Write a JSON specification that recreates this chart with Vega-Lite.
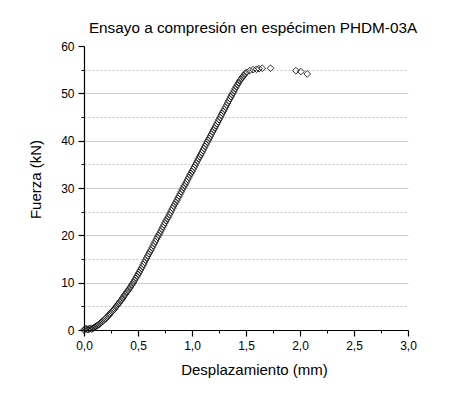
{
  "$schema": "https://vega.github.io/schema/vega-lite/v6.json",
  "autosize": {"type": "none"},
  "padding": {"left": 84, "top": 46, "right": 66, "bottom": 65},
  "width": 324,
  "height": 284,
  "background": "white",
  "title": {"text": "Ensayo a compresión en espécimen PHDM-03A", "font": "Liberation Sans", "fontSize": 15.3, "fontWeight": "normal", "color": "black", "anchor": "middle", "offset": 4, "dx": 7},
  "config": {"view": {"stroke": null}},
  "data": {"values": [
    {"d": 0.00, "f": 0.0}, {"d": 0.01, "f": 0.2}, {"d": 0.02, "f": 0.3}, {"d": 0.03, "f": 0.1}, {"d": 0.04, "f": 0.1},
    {"d": 0.05, "f": 0.3}, {"d": 0.06, "f": 0.35}, {"d": 0.07, "f": 0.2}, {"d": 0.08, "f": 0.3}, {"d": 0.09, "f": 0.45},
    {"d": 0.10, "f": 0.6}, {"d": 0.11, "f": 0.75}, {"d": 0.12, "f": 0.9}, {"d": 0.13, "f": 1.05}, {"d": 0.14, "f": 1.2},
    {"d": 0.15, "f": 1.4}, {"d": 0.16, "f": 1.6}, {"d": 0.17, "f": 1.8}, {"d": 0.18, "f": 2.0}, {"d": 0.19, "f": 2.2},
    {"d": 0.20, "f": 2.4}, {"d": 0.21, "f": 2.65}, {"d": 0.22, "f": 2.9}, {"d": 0.23, "f": 3.15}, {"d": 0.24, "f": 3.4},
    {"d": 0.25, "f": 3.65}, {"d": 0.26, "f": 3.9}, {"d": 0.27, "f": 4.15}, {"d": 0.28, "f": 4.4}, {"d": 0.29, "f": 4.7},
    {"d": 0.30, "f": 5.0}, {"d": 0.31, "f": 5.3}, {"d": 0.32, "f": 5.6}, {"d": 0.33, "f": 5.9}, {"d": 0.34, "f": 6.2},
    {"d": 0.35, "f": 6.5}, {"d": 0.36, "f": 6.8}, {"d": 0.37, "f": 7.15}, {"d": 0.38, "f": 7.5}, {"d": 0.39, "f": 7.8},
    {"d": 0.40, "f": 8.1}, {"d": 0.41, "f": 8.4}, {"d": 0.42, "f": 8.75}, {"d": 0.43, "f": 9.1}, {"d": 0.44, "f": 9.45},
    {"d": 0.45, "f": 9.8}, {"d": 0.46, "f": 10.15}, {"d": 0.47, "f": 10.55}, {"d": 0.48, "f": 10.95}, {"d": 0.49, "f": 11.35},
    {"d": 0.50, "f": 11.75}, {"d": 0.51, "f": 12.15}, {"d": 0.52, "f": 12.6}, {"d": 0.53, "f": 13.0}, {"d": 0.54, "f": 13.4},
    {"d": 0.55, "f": 13.85}, {"d": 0.56, "f": 14.3}, {"d": 0.57, "f": 14.75}, {"d": 0.58, "f": 15.2}, {"d": 0.59, "f": 15.65},
    {"d": 0.60, "f": 16.1}, {"d": 0.61, "f": 16.5}, {"d": 0.62, "f": 16.9}, {"d": 0.63, "f": 17.35}, {"d": 0.64, "f": 17.8},
    {"d": 0.65, "f": 18.25}, {"d": 0.66, "f": 18.7}, {"d": 0.67, "f": 19.15}, {"d": 0.68, "f": 19.6}, {"d": 0.69, "f": 20.0},
    {"d": 0.70, "f": 20.4}, {"d": 0.71, "f": 20.85}, {"d": 0.72, "f": 21.3}, {"d": 0.73, "f": 21.75}, {"d": 0.74, "f": 22.2},
    {"d": 0.75, "f": 22.65}, {"d": 0.76, "f": 23.1}, {"d": 0.77, "f": 23.5}, {"d": 0.78, "f": 23.9}, {"d": 0.79, "f": 24.35},
    {"d": 0.80, "f": 24.8}, {"d": 0.81, "f": 25.25}, {"d": 0.82, "f": 25.7}, {"d": 0.83, "f": 26.15}, {"d": 0.84, "f": 26.6},
    {"d": 0.85, "f": 27.0}, {"d": 0.86, "f": 27.4}, {"d": 0.87, "f": 27.85}, {"d": 0.88, "f": 28.3}, {"d": 0.89, "f": 28.75},
    {"d": 0.90, "f": 29.2}, {"d": 0.91, "f": 29.65}, {"d": 0.92, "f": 30.1}, {"d": 0.93, "f": 30.5}, {"d": 0.94, "f": 30.9},
    {"d": 0.95, "f": 31.35}, {"d": 0.96, "f": 31.8}, {"d": 0.97, "f": 32.25}, {"d": 0.98, "f": 32.7}, {"d": 0.99, "f": 33.1},
    {"d": 1.00, "f": 33.5}, {"d": 1.01, "f": 33.95}, {"d": 1.02, "f": 34.4}, {"d": 1.03, "f": 34.85}, {"d": 1.04, "f": 35.3},
    {"d": 1.05, "f": 35.75}, {"d": 1.06, "f": 36.2}, {"d": 1.07, "f": 36.6}, {"d": 1.08, "f": 37.0}, {"d": 1.09, "f": 37.45},
    {"d": 1.10, "f": 37.9}, {"d": 1.11, "f": 38.35}, {"d": 1.12, "f": 38.8}, {"d": 1.13, "f": 39.25}, {"d": 1.14, "f": 39.7},
    {"d": 1.15, "f": 40.1}, {"d": 1.16, "f": 40.5}, {"d": 1.17, "f": 40.95}, {"d": 1.18, "f": 41.4}, {"d": 1.19, "f": 41.85},
    {"d": 1.20, "f": 42.3}, {"d": 1.21, "f": 42.7}, {"d": 1.22, "f": 43.1}, {"d": 1.23, "f": 43.55}, {"d": 1.24, "f": 44.0},
    {"d": 1.25, "f": 44.45}, {"d": 1.26, "f": 44.9}, {"d": 1.27, "f": 45.35}, {"d": 1.28, "f": 45.8}, {"d": 1.29, "f": 46.2},
    {"d": 1.30, "f": 46.6}, {"d": 1.31, "f": 47.05}, {"d": 1.32, "f": 47.5}, {"d": 1.33, "f": 47.95}, {"d": 1.34, "f": 48.4},
    {"d": 1.35, "f": 48.85}, {"d": 1.36, "f": 49.3}, {"d": 1.37, "f": 49.7}, {"d": 1.38, "f": 50.1}, {"d": 1.39, "f": 50.55},
    {"d": 1.40, "f": 51.0}, {"d": 1.41, "f": 51.4}, {"d": 1.42, "f": 51.8}, {"d": 1.43, "f": 52.2}, {"d": 1.44, "f": 52.6},
    {"d": 1.45, "f": 52.9}, {"d": 1.46, "f": 53.2}, {"d": 1.47, "f": 53.5}, {"d": 1.48, "f": 53.8}, {"d": 1.49, "f": 54.1},
    {"d": 1.505, "f": 54.45}, {"d": 1.535, "f": 54.8}, {"d": 1.566, "f": 55.0}, {"d": 1.597, "f": 55.1}, {"d": 1.62, "f": 55.2},
    {"d": 1.65, "f": 55.3}, {"d": 1.727, "f": 55.3},
    {"d": 1.962, "f": 54.8}, {"d": 2.008, "f": 54.6}, {"d": 2.067, "f": 54.1}
  ]},
  "resolve": {"axis": {"x": "independent", "y": "independent"}},
  "layer": [
    {
      "mark": {"type": "point", "opacity": 0},
      "encoding": {
        "x": {"field": "d", "type": "quantitative", "scale": {"domain": [0, 3], "nice": false, "zero": false},
          "axis": {"orient": "bottom", "values": [0.25, 0.75, 1.25, 1.75, 2.25, 2.75], "labels": false, "title": null, "domain": false, "grid": false, "tickSize": 3, "tickColor": "black", "tickWidth": 1}},
        "y": {"field": "f", "type": "quantitative", "scale": {"domain": [0, 60], "nice": false, "zero": false},
          "axis": {"orient": "left", "values": [5, 15, 25, 35, 45, 55], "labels": false, "title": null, "domain": false, "grid": true, "gridColor": "#c4c4c4", "gridDash": [2, 2], "gridWidth": 1, "tickSize": 3, "tickColor": "black", "tickWidth": 1}}
      }
    },
    {
      "mark": {"type": "point", "shape": "diamond", "filled": false, "stroke": "#1a1a1a", "strokeWidth": 0.9, "size": 45, "opacity": 1},
      "encoding": {
        "x": {"field": "d", "type": "quantitative", "scale": {"domain": [0, 3], "nice": false, "zero": false},
          "axis": {"orient": "bottom", "values": [0, 0.5, 1, 1.5, 2, 2.5, 3], "labelExpr": "replace(format(datum.value, '.1f'), '.', ',')", "labelFlush": false, "title": "Desplazamiento (mm)", "titleFont": "Liberation Sans", "titleFontSize": 15, "titleFontWeight": "normal", "titleColor": "black", "titlePadding": 11, "titleX": 170, "labelFont": "Liberation Sans", "labelFontSize": 12, "labelColor": "black", "labelPadding": 4, "grid": false, "domain": true, "domainColor": "black", "domainWidth": 1.2, "tickSize": 6, "tickColor": "black", "tickWidth": 1.2}},
        "y": {"field": "f", "type": "quantitative", "scale": {"domain": [0, 60], "nice": false, "zero": false},
          "axis": {"orient": "left", "values": [0, 10, 20, 30, 40, 50, 60], "labelFlush": false, "title": "Fuerza (kN)", "titleFont": "Liberation Sans", "titleFontSize": 15, "titleFontWeight": "normal", "titleColor": "black", "titlePadding": 17, "titleY": 133, "labelFont": "Liberation Sans", "labelFontSize": 12, "labelColor": "black", "labelPadding": 4, "grid": true, "gridColor": "#cccccc", "gridWidth": 1, "gridOpacity": {"expr": "datum.value == 0 || datum.value == 60 ? 0 : 1"}, "domain": true, "domainColor": "black", "domainWidth": 1.2, "tickSize": 6, "tickColor": "black", "tickWidth": 1.2}}
      }
    }
  ]
}
